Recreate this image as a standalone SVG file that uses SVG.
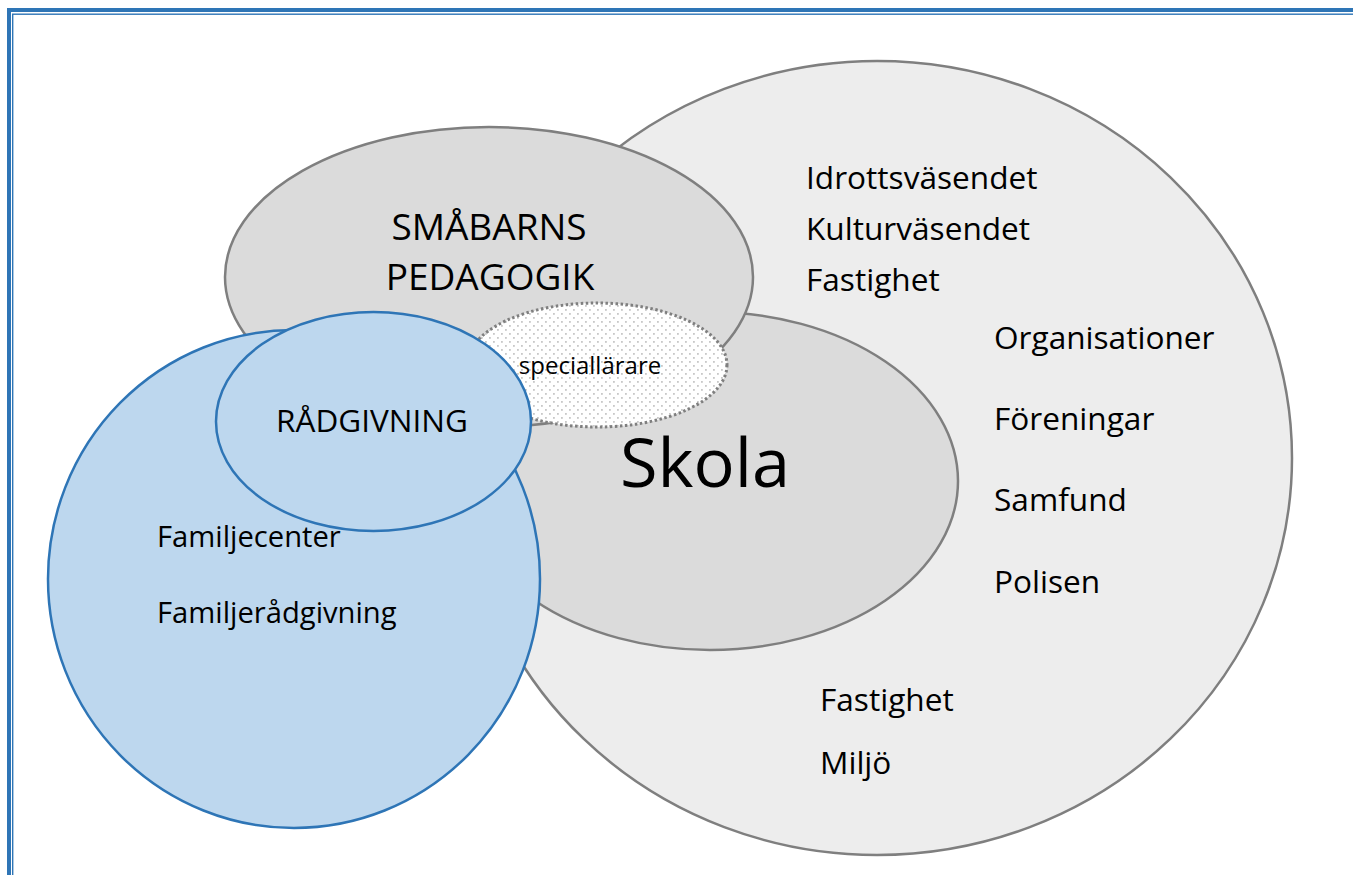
<svg xmlns="http://www.w3.org/2000/svg" width="1353" height="875" viewBox="0 0 1353 875">
<defs>
<pattern id="dots" patternUnits="userSpaceOnUse" width="8" height="8">
<rect x="0" y="0" width="8" height="8" fill="#ffffff"/>
<rect x="1" y="1" width="1.8" height="1.8" fill="#c8c8c8"/>
<rect x="5" y="5" width="1.8" height="1.8" fill="#c8c8c8"/>
</pattern>
</defs>
<style>
.t{font-family:"Open Sans","Noto Sans","DejaVu Sans",sans-serif;fill:#000}
.side{font-size:31.6px}
.gray{stroke:#7f7f7f;stroke-width:2.5}
.blue{fill:#bdd7ee;stroke:#2e75b6;stroke-width:2.5}
</style>
<rect x="0" y="0" width="1353" height="875" fill="#ffffff"/>
<g id="border" fill="none" stroke="#2e75b6">
<rect x="9" y="10" width="1400" height="900" stroke-width="4"/>
<rect x="12.7" y="14.2" width="1400" height="900" stroke-width="1.4"/>
</g>
<g id="omgivning">
<ellipse cx="877" cy="458" rx="415" ry="397" fill="#ededed" class="gray"/>
</g>
<g id="skola">
<ellipse cx="710" cy="481" rx="248" ry="169" fill="#dbdbdb" class="gray"/>
</g>
<g id="smabarnspedagogik">
<ellipse cx="489" cy="277" rx="264" ry="150" fill="#dbdbdb" class="gray"/>
</g>
<g id="speciallarare">
<ellipse cx="597" cy="365" rx="130" ry="62" fill="url(#dots)" stroke="#7f7f7f" stroke-width="3" stroke-dasharray="2.5 2.5"/>
</g>
<g id="familj">
<ellipse cx="294" cy="579" rx="246" ry="249" class="blue"/>
</g>
<g id="radgivning">
<ellipse cx="373.5" cy="421.5" rx="157.5" ry="109.5" class="blue"/>
</g>
<g id="connectors"></g>
<g id="labels" class="t">
<text x="489" y="240" font-size="37" text-anchor="middle">SMÅBARNS</text>
<text x="490" y="290" font-size="37" text-anchor="middle">PEDAGOGIK</text>
<text x="590" y="374" font-size="24" text-anchor="middle">speciallärare</text>
<text x="372" y="432" font-size="31.5" text-anchor="middle">RÅDGIVNING</text>
<text x="705" y="487" font-size="68.5" text-anchor="middle">Skola</text>
<text x="157" y="547" font-size="29.2">Familjecenter</text>
<text x="157" y="623" font-size="29.2">Familjerådgivning</text>
<text x="806" y="189" class="side">Idrottsväsendet</text>
<text x="806" y="240" class="side">Kulturväsendet</text>
<text x="806" y="291" class="side">Fastighet</text>
<text x="994" y="349" class="side">Organisationer</text>
<text x="994" y="430" class="side">Föreningar</text>
<text x="994" y="511" class="side">Samfund</text>
<text x="994" y="593" class="side">Polisen</text>
<text x="820" y="711" class="side">Fastighet</text>
<text x="820" y="774" class="side">Miljö</text>
</g>
</svg>
